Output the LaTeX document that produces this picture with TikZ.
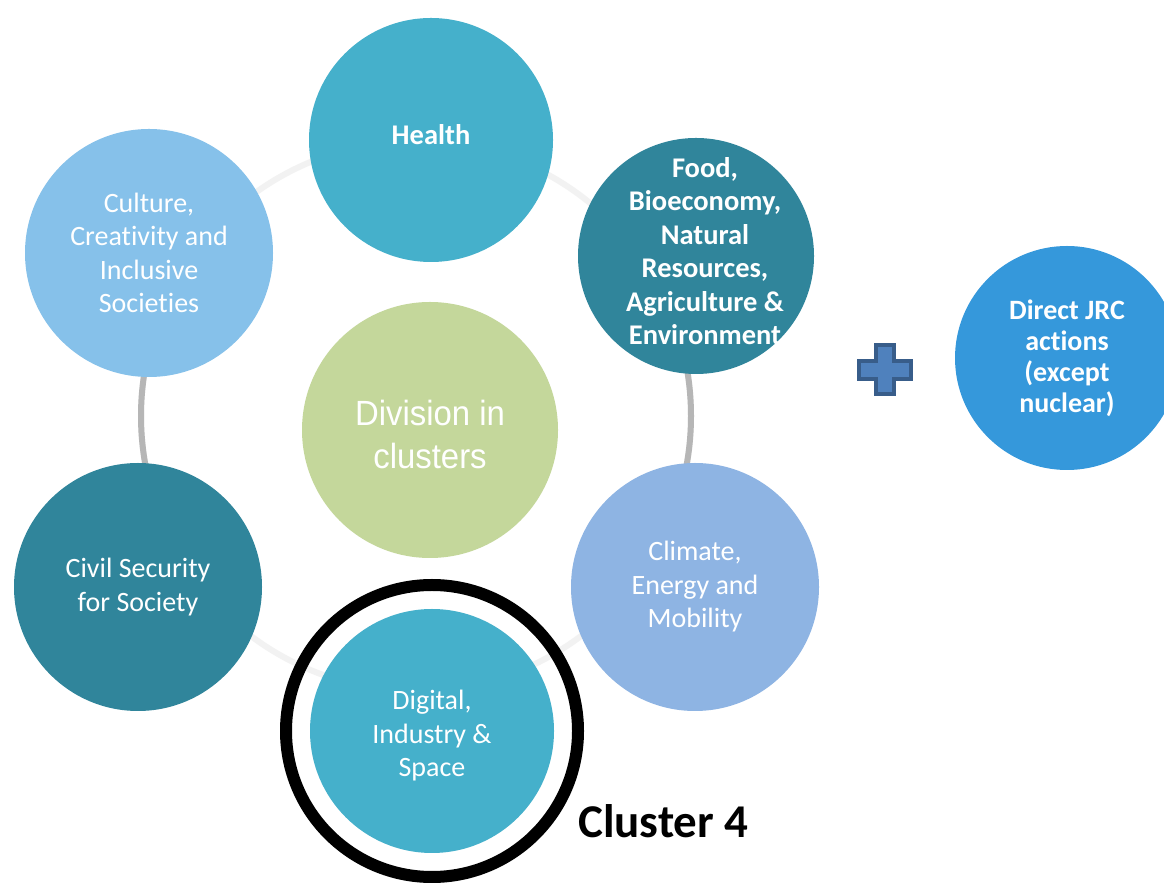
\documentclass[tikz,border=0pt]{standalone}
\usepackage{fontspec}
\setmainfont{Carlito}[Ligatures=NoCommon]
\newfontfamily\arialfont{Liberation Sans}
\begin{document}
\begin{tikzpicture}[x=1pt,y=1pt,
  bubble/.style={circle,inner sep=0pt,outer sep=0pt},
  plaintext/.style={text=white,align=center,inner sep=0pt,
    font=\fontsize{28}{33.5}\selectfont},
  boldtext/.style={plaintext,font=\fontsize{28.5}{33.5}\selectfont\bfseries}]
\definecolor{fillColor}{RGB}{255,255,255}
\definecolor{ringLight}{RGB}{242,242,242}
\definecolor{ringDark}{RGB}{182,182,182}
\definecolor{tealLight}{RGB}{69,176,203}
\definecolor{tealDark}{RGB}{48,133,155}
\definecolor{skyBlue}{RGB}{134,193,234}
\definecolor{paleBlue}{RGB}{142,180,227}
\definecolor{paleGreen}{RGB}{196,215,155}
\definecolor{jrcBlue}{RGB}{53,152,219}
\definecolor{plusFill}{RGB}{79,129,189}
\definecolor{plusDraw}{RGB}{56,93,138}
\path[use as bounding box,fill=fillColor] (0,0) rectangle (1164,883);
\begin{scope}
\path[clip] (0,0) rectangle (1164,883);

% ring behind the clusters
\path[draw=ringLight,line width=6] (416,467) circle (275);
\path[draw=ringDark,line width=6] (416,467) ++(158:275) arc (158:202:275);
\path[draw=ringDark,line width=6] (416,467) ++(-22:275) arc (-22:22:275);

% clusters
\node[bubble,fill=tealLight,minimum size=244,
  label={[boldtext,yshift=5]center:Health}] (health) at (431,743) {};
\node[bubble,fill=tealDark,minimum size=236,
  label={[boldtext,xshift=9,yshift=5]center:{Food,\\Bioeconomy,\\Natural\\Resources,\\Agriculture \&\\Environment}}]
  (food) at (696,627) {};
\node[bubble,fill=paleBlue,minimum size=248,
  label={[plaintext]center:{Climate,\\Energy and\\Mobility}}] (climate) at (695,296) {};
\node[bubble,fill=tealLight,minimum size=244,
  label={[plaintext,yshift=-5]center:{Digital,\\Industry \&\\Space}}] (digital) at (432,152) {};
\node[bubble,fill=tealDark,minimum size=248,
  label={[plaintext]center:{Civil Security\\for Society}}] (civil) at (138,296) {};
\node[bubble,fill=skyBlue,minimum size=248,
  label={[plaintext]center:{Culture,\\Creativity and\\Inclusive\\Societies}}] (culture) at (149,630) {};
\node[bubble,fill=paleGreen,minimum size=256,
  label={[plaintext,yshift=-4,font=\arialfont\fontsize{35}{43}\selectfont]center:{%
  \scalebox{0.94}[1]{Division in}\\\scalebox{0.94}[1]{clusters}}}] (division) at (430,453) {};

% cluster 4 highlight
\path[draw=black,line width=12] (digital.center) circle (146);
\node[anchor=base west,inner sep=0pt,font=\fontsize{47}{50}\selectfont\bfseries] (label4)
  at (578,45) {Cluster 4};

% plus sign and JRC
\path[fill=plusFill,draw=plusDraw,line width=4] (876,538) -- (894,538) -- (894,522)
  -- (911,522) -- (911,504) -- (894,504) -- (894,489) -- (876,489) -- (876,504)
  -- (859,504) -- (859,522) -- (876,522) -- cycle;
\node[bubble,fill=jrcBlue,minimum size=224,
  label={[boldtext,font=\fontsize{28}{31}\selectfont\bfseries]center:{Direct JRC\\actions\\(except\\nuclear)}}]
  (jrc) at (1067,525) {};
\end{scope}
\end{tikzpicture}
\end{document}
